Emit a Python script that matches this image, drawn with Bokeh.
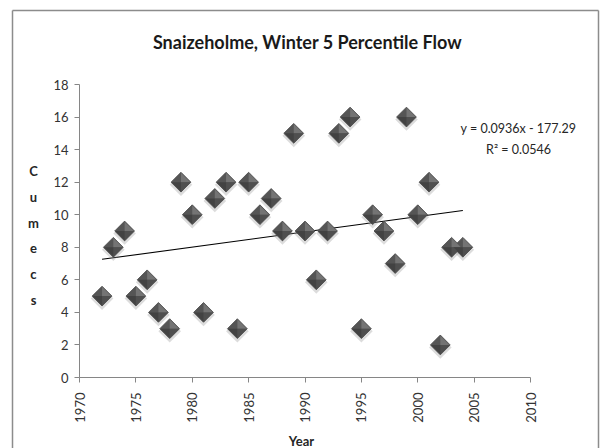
import numpy as np
from bokeh.plotting import figure
from bokeh.models import Range1d, FixedTicker, Label
from bokeh.embed import file_html
from bokeh.resources import INLINE

years = [1972, 1973, 1974, 1975, 1976, 1977, 1978, 1979, 1980, 1981, 1982,
         1983, 1984, 1985, 1986, 1987, 1988, 1989, 1990, 1991, 1992, 1993,
         1994, 1995, 1996, 1997, 1998, 1999, 2000, 2001, 2002, 2003, 2004]
flow = [5, 8, 9, 5, 6, 4, 3, 12, 10, 4, 11,
        12, 3, 12, 10, 11, 9, 15, 9, 6, 9, 15,
        16, 3, 10, 9, 7, 16, 10, 12, 2, 8, 8]
x_ticks = [1970, 1975, 1980, 1985, 1990, 1995, 2000, 2005, 2010]
y_ticks = [0, 2, 4, 6, 8, 10, 12, 14, 16, 18]
title_text = "Snaizeholme, Winter 5 Percentile Flow"
x_label = "Year"
y_label = "Cumecs"

FONT = "Lato"
TXT = "#262626"
AX = "#868686"

# canvas geometry (pixels)
W, H = 602, 448
FL, FR, FT, FB = 79, 530, 84, 377      # plot area inside canvas
X0, X1, Y0, Y1 = 1970, 2010, 0, 18
pxx = (FR - FL) / (X1 - X0)
pxy = (FB - FT) / (Y1 - Y0)
x_start, x_end = X0 - FL / pxx, X1 + (W - FR) / pxx
y_start, y_end = Y0 - (H - FB) / pxy, Y1 + FT / pxy


def dx(cx):
    return x_start + cx / pxx


def dy(cy):
    return y_end - cy / pxy


slope, intercept = np.polyfit(years, flow, 1)
yarr = np.array(flow, dtype=float)
pred = slope * np.array(years) + intercept
r2 = 1 - np.sum((yarr - pred) ** 2) / np.sum((yarr - yarr.mean()) ** 2)

p = figure(width=W, height=H, x_range=Range1d(x_start, x_end), y_range=Range1d(y_start, y_end),
           output_backend="svg", toolbar_location=None,
           min_border=0, min_border_left=0, min_border_right=0, min_border_top=0, min_border_bottom=0)
p.outline_line_color = None
p.xgrid.visible = False
p.ygrid.visible = False

# outer chart frame (left, top, right edges; bottom runs off the page)
bx0, bx1, by0, by1 = dx(12), dx(598), dy(10), dy(470)
p.segment(x0=[bx0, bx0, bx1], y0=[by1, by0, by0], x1=[bx0, bx1, bx1], y1=[by0, by0, by1],
          line_color="#8c8c8c", line_width=1.5)

for ax in (p.xaxis, p.yaxis):
    ax.axis_line_color = AX
    ax.major_tick_line_color = AX
    ax.major_tick_out = 5
    ax.major_tick_in = 0
    ax.minor_tick_line_color = None
    ax.major_label_text_font = FONT
    ax.major_label_text_font_size = "13px"
    ax.major_label_text_color = "#333333"

p.xaxis.fixed_location = Y0
p.yaxis.fixed_location = X0
p.xaxis.bounds = (X0, X1)
p.yaxis.bounds = (Y0, Y1)
p.xaxis.ticker = FixedTicker(ticks=x_ticks)
p.yaxis.ticker = FixedTicker(ticks=y_ticks)
p.xaxis.major_label_orientation = np.pi / 2
p.xaxis.major_label_standoff = 10
p.yaxis.major_label_standoff = 6

# title
p.add_layout(Label(x=dx(307), y=dy(41), text=title_text, text_align="center",
                   text_baseline="middle", text_font=FONT, text_font_size="18px",
                   text_font_style="bold", text_color="#1a1a1a"))
# axis titles
p.add_layout(Label(x=dx(301), y=dy(440), text=x_label, text_align="center",
                   text_baseline="middle", text_font=FONT, text_font_size="13px",
                   text_font_style="bold", text_color=TXT))
p.add_layout(Label(x=dx(33), y=dy(235), text="\n".join(list(y_label)), text_align="center",
                   text_baseline="middle", text_font=FONT, text_font_size="13px",
                   text_font_style="bold", text_color=TXT, text_line_height=1.62))

# trend line over data span
tx = [min(years), max(years)]
ty = [slope * v + intercept for v in tx]
p.line(tx, ty, line_color="black", line_width=1.1)

# markers: soft shadow, diamond, then shaded pyramid faces
shadow_off = 2.5 / pxy
p.scatter(years, [v - shadow_off for v in flow], marker="square", angle=np.pi / 4, size=16,
          fill_color="#8a8a8a", fill_alpha=0.3, line_color=None)
p.scatter(years, flow, marker="square", angle=np.pi / 4, size=14,
          fill_color="#555555", line_color="#454545", line_width=0.8)

rx, ry = 9.3 / pxx, 9.3 / pxy
tr_x = [[x, x, x + rx] for x in years]
tr_y = [[y, y + ry, y] for y in flow]
bl_x = [[x, x, x - rx] for x in years]
bl_y = [[y, y - ry, y] for y in flow]
br_x = [[x, x + rx, x] for x in years]
br_y = [[y, y, y - ry] for y in flow]
p.patches(tr_x, tr_y, fill_color="#747474", line_color=None)
p.patches(br_x, br_y, fill_color="#4f4f4f", line_color=None)
p.patches(bl_x, bl_y, fill_color="#424242", line_color=None)

sign = "-" if intercept < 0 else "+"
eq = f"y = {slope:.4f}x {sign} {abs(intercept):.2f}"
p.add_layout(Label(x=dx(518), y=dy(128), text=eq, text_align="center",
                   text_baseline="middle", text_font=FONT,
                   text_font_size="12.5px", text_color=TXT))
p.add_layout(Label(x=dx(518), y=dy(149), text=f"R\u00b2 = {r2:.4f}", text_align="center",
                   text_baseline="middle", text_font=FONT, text_font_size="12.5px",
                   text_color=TXT))

open("out.html", "w").write(file_html(p, INLINE))
